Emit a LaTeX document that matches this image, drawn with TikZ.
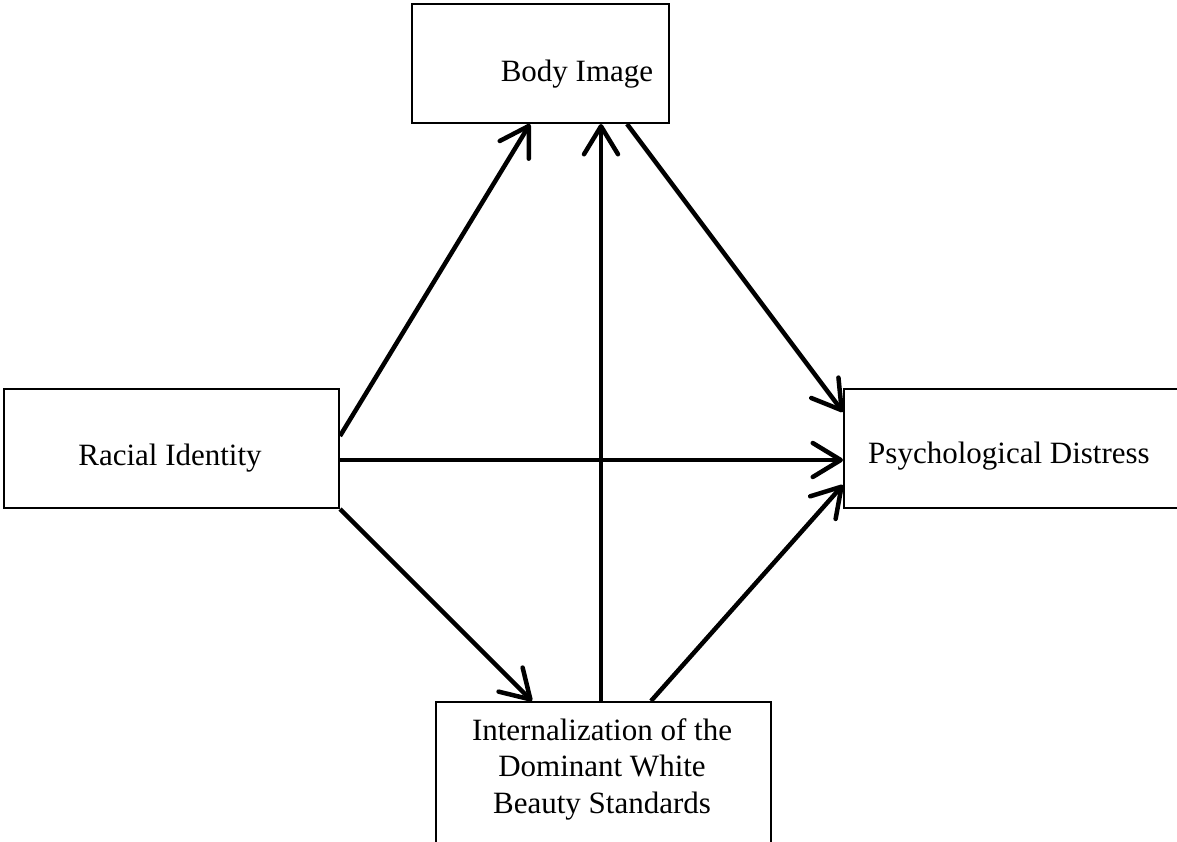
\documentclass[tikz,border=0pt]{standalone}
\usepackage{fontspec}
\setmainfont{Liberation Serif}
\usetikzlibrary{arrows.meta,calc}
\begin{document}
\begin{tikzpicture}[x=1pt,y=-1pt,
  box/.style={draw,line width=2pt,inner sep=0pt,anchor=north west},
  lbl/.style={font=\fontsize{31}{36.5}\selectfont,inner sep=0pt,anchor=base,align=center},
  arr/.style={line width=4.5pt,-{Straight Barb[length=28pt,width=34pt,line width=4.5pt,round]}}]
\useasboundingbox (0,0) rectangle (1177,842);
\node[box,minimum width=257pt,minimum height=119pt] (bi) at (411,3) {};
\node[box,minimum width=335pt,minimum height=119pt] (ri) at (3,388) {};
\node[box,minimum width=340pt,minimum height=119pt] (pd) at (843,388) {};
\node[box,minimum width=335pt,minimum height=160pt] (ib) at (435,701) {};
\node[lbl] (bit) at (577,82) {Body Image};
\node[lbl] (rit) at (170,465) {Racial Identity};
\node[lbl] (pdt) at (1009,463) {Psychological Distress};
\node[lbl] (ibt) at (602,813) {Internalization of the\\Dominant White\\Beauty Standards};
\draw[arr] ($(ri.east)+(0,-12.5)$) -- ($(bi.south west)+(119,0)$);
\draw[arr] ($(ib.north west)+(166,0)$) -- ($(bi.south west)+(190,0)$);
\draw[arr] ($(bi.south west)+(216,0)$) -- ($(pd.north west)+(0,24)$);
\draw[arr] ($(ri.east)+(0,11.5)$) -- ($(pd.west)+(0,11.5)$);
\draw[arr] (ri.south east) -- ($(ib.north west)+(97,0)$);
\draw[arr] ($(ib.north west)+(216,0)$) -- ($(pd.south west)+(0,-24)$);
\end{tikzpicture}
\end{document}
